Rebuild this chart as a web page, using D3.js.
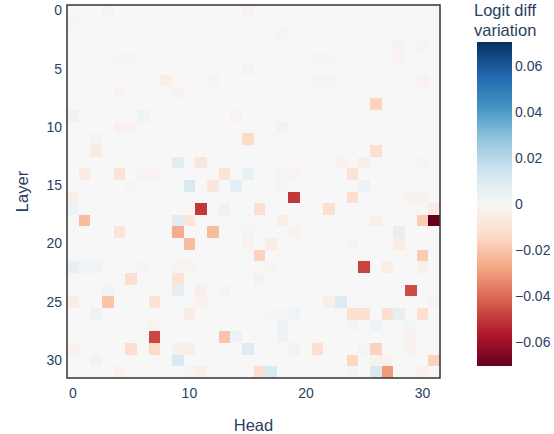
<!DOCTYPE html>
<html>
<head>
<meta charset="utf-8">
<script src="https://cdn.jsdelivr.net/npm/d3@7"></script>
<style>
  body { margin: 0; background: #fff; }
  text { font-family: "Liberation Sans", Arial, sans-serif; fill: #2a3f5f; }
</style>
</head>
<body>
<div id="chart"></div>
<script>
// Heatmap: layers (rows) x heads (columns)
const layers = d3.range(32);
const heads = d3.range(32);
const xTicks = [0, 10, 20, 30];
const yTicks = [0, 5, 10, 15, 20, 25, 30];
const cbTicks = [0.06, 0.04, 0.02, 0, -0.02, -0.04, -0.06];

// non-zero cells: [layer, head, value]
const cells = [
  [0, 3, 0.002], [0, 15, -0.002], [1, 0, -0.001], [2, 18, 0.002],
  [3, 28, -0.003], [3, 30, -0.002],
  [4, 4, -0.001], [4, 5, -0.001], [4, 21, -0.001], [4, 22, -0.001], [4, 28, -0.002],
  [5, 15, 0.002],
  [6, 8, -0.004], [6, 12, -0.002], [6, 21, 0.002], [6, 22, 0.002], [6, 30, -0.003],
  [7, 4, -0.002], [7, 9, -0.003], [7, 16, 0.001],
  [8, 26, -0.016],
  [9, 0, 0.003], [9, 6, 0.003], [9, 14, -0.002],
  [10, 4, -0.003], [10, 5, -0.003], [10, 18, 0.003],
  [11, 2, -0.002], [11, 15, -0.014],
  [12, 2, -0.006], [12, 26, -0.012],
  [13, 9, 0.008], [13, 11, -0.008], [13, 23, -0.003], [13, 25, -0.004], [13, 30, 0.002],
  [14, 1, -0.006], [14, 4, -0.009], [14, 6, -0.002], [14, 7, -0.002], [14, 13, -0.010],
  [14, 15, 0.005], [14, 18, -0.002], [14, 19, -0.002], [14, 24, -0.010],
  [15, 5, -0.001], [15, 10, 0.011], [15, 12, -0.008], [15, 14, 0.007], [15, 18, 0.002], [15, 25, 0.004],
  [16, 0, -0.004], [16, 19, -0.050], [16, 24, -0.012], [16, 29, -0.003], [16, 30, -0.003],
  [17, 0, 0.004], [17, 11, -0.050], [17, 13, -0.004], [17, 16, -0.012], [17, 22, -0.012], [17, 31, -0.006],
  [18, 1, -0.022], [18, 9, 0.008], [18, 10, -0.008], [18, 18, -0.005], [18, 26, -0.004],
  [18, 30, -0.018], [18, 31, -0.0704],
  [19, 4, -0.009], [19, 9, -0.026], [19, 12, -0.022], [19, 15, 0.002], [19, 19, -0.002], [19, 28, 0.006],
  [20, 10, -0.022], [20, 15, -0.002], [20, 17, -0.005], [20, 24, 0.002], [20, 28, -0.005],
  [21, 16, -0.016], [21, 30, -0.018],
  [22, 0, 0.006], [22, 1, 0.003], [22, 2, 0.003], [22, 6, 0.002], [22, 9, -0.002], [22, 10, -0.002],
  [22, 17, -0.001], [22, 25, -0.048], [22, 27, -0.005], [22, 30, -0.004],
  [23, 5, -0.012], [23, 9, -0.010], [23, 16, 0.003], [23, 25, 0.001],
  [24, 3, 0.003], [24, 9, 0.007], [24, 11, -0.004], [24, 13, 0.002], [24, 29, -0.046],
  [25, 0, -0.005], [25, 3, -0.020], [25, 7, -0.010], [25, 11, -0.003], [25, 22, -0.004],
  [25, 23, 0.009], [25, 31, -0.002],
  [26, 2, 0.004], [26, 10, -0.006], [26, 17, -0.001], [26, 18, -0.001], [26, 19, 0.003],
  [26, 24, -0.011], [26, 25, -0.011], [26, 27, -0.012], [26, 28, 0.006], [26, 30, -0.012],
  [27, 7, -0.002], [27, 18, 0.004], [27, 24, -0.002], [27, 26, 0.004], [27, 29, 0.002],
  [28, 7, -0.047], [28, 13, -0.020], [28, 14, 0.004], [28, 18, 0.004], [28, 29, -0.003],
  [29, 0, -0.003], [29, 5, -0.012], [29, 7, -0.014], [29, 9, -0.004], [29, 10, -0.004],
  [29, 15, 0.009], [29, 19, 0.003], [29, 21, -0.011], [29, 25, 0.002], [29, 26, -0.016], [29, 29, -0.003],
  [30, 2, -0.003], [30, 9, 0.011], [30, 24, -0.015], [30, 26, -0.003], [30, 27, -0.003], [30, 31, -0.016],
  [31, 4, -0.003], [31, 10, 0.002], [31, 11, -0.004], [31, 16, -0.013], [31, 17, 0.011],
  [31, 24, -0.002], [31, 26, 0.011], [31, 27, -0.030], [31, 30, -0.003]
];

// RdBu colours (red = negative, blue = positive)
const rdbu = ["#67001f", "#b2182b", "#d6604d", "#f4a582", "#fddbc7", "#f7f7f7",
              "#d1e5f0", "#92c5de", "#4393c3", "#2166ac", "#053061"];

const W = 554, H = 434;
const plot = {left: 67, top: 5, right: 440, bottom: 378};

// full grid, zero where nothing was read
const lookup = new Map(cells.map(d => [d[0] + "-" + d[1], d[2]]));
const grid = [];
layers.forEach(l => heads.forEach(h => {
  grid.push({layer: l, head: h, value: lookup.get(l + "-" + h) || 0});
}));

const zmax = d3.max(cells, d => Math.abs(d[2]));
const color = d3.scaleLinear()
  .domain(rdbu.map((c, i) => -zmax + i * (2 * zmax) / (rdbu.length - 1)))
  .range(rdbu)
  .clamp(true);

const svg = d3.select("#chart").append("svg")
  .attr("width", W)
  .attr("height", H);

const x = d3.scaleBand().domain(heads).range([plot.left, plot.right]);
const y = d3.scaleBand().domain(layers).range([plot.top, plot.bottom]);

// cells
svg.append("g")
  .selectAll("rect")
  .data(grid)
  .join("rect")
  .attr("x", d => x(d.head))
  .attr("y", d => y(d.layer))
  .attr("width", x.bandwidth() + 0.3)
  .attr("height", y.bandwidth() + 0.3)
  .attr("fill", d => color(d.value))
  .attr("shape-rendering", "crispEdges");

// frame
svg.append("rect")
  .attr("x", plot.left)
  .attr("y", plot.top)
  .attr("width", plot.right - plot.left)
  .attr("height", plot.bottom - plot.top)
  .attr("fill", "none")
  .attr("stroke", "#333")
  .attr("stroke-width", 1.5);

// axes
const xAxis = svg.append("g")
  .attr("transform", `translate(0,${plot.bottom})`)
  .call(d3.axisBottom(x).tickValues(xTicks).tickSize(0).tickPadding(10));
const yAxis = svg.append("g")
  .attr("transform", `translate(${plot.left},0)`)
  .call(d3.axisLeft(y).tickValues(yTicks).tickSize(0).tickPadding(5));
[xAxis, yAxis].forEach(a => {
  a.select(".domain").remove();
  a.selectAll("text")
    .style("font-size", "14px")
    .style("fill", "#2a3f5f")
    .style("font-family", "Liberation Sans, Arial, sans-serif");
});

// axis titles
svg.append("text")
  .attr("x", (plot.left + plot.right) / 2)
  .attr("y", 431)
  .attr("text-anchor", "middle")
  .style("font-size", "16.5px")
  .text("Head");

svg.append("text")
  .attr("transform", `translate(28,${(plot.top + plot.bottom) / 2}) rotate(-90)`)
  .attr("text-anchor", "middle")
  .style("font-size", "16.5px")
  .text("Layer");

// colorbar
const cb = {left: 477, width: 35, top: 42, bottom: 366};
const cy = d3.scaleLinear().domain([-zmax, zmax]).range([cb.bottom, cb.top]);

const grad = svg.append("defs").append("linearGradient")
  .attr("id", "cbgrad")
  .attr("x1", 0).attr("x2", 0).attr("y1", 1).attr("y2", 0);
grad.selectAll("stop")
  .data(rdbu)
  .join("stop")
  .attr("offset", (d, i) => i / (rdbu.length - 1))
  .attr("stop-color", d => d);

svg.append("rect")
  .attr("x", cb.left)
  .attr("y", cb.top)
  .attr("width", cb.width)
  .attr("height", cb.bottom - cb.top)
  .attr("fill", "url(#cbgrad)");

const cbAxis = svg.append("g")
  .attr("transform", `translate(${cb.left + cb.width},0)`)
  .call(d3.axisRight(cy).tickValues(cbTicks).tickSize(0).tickPadding(3)
    .tickFormat(d => d === 0 ? "0" : d3.format(".2f")(d).replace("-", "\u2212")));
cbAxis.select(".domain").remove();
cbAxis.selectAll("text")
  .style("font-size", "14px")
  .style("fill", "#2a3f5f")
  .style("font-family", "Liberation Sans, Arial, sans-serif");

const cbTitle = svg.append("text")
  .attr("x", 474)
  .attr("y", 16)
  .style("font-size", "16.5px");
cbTitle.append("tspan").attr("x", 474).text("Logit diff");
cbTitle.append("tspan").attr("x", 474).attr("dy", 19.5).text("variation");
</script>
</body>
</html>
